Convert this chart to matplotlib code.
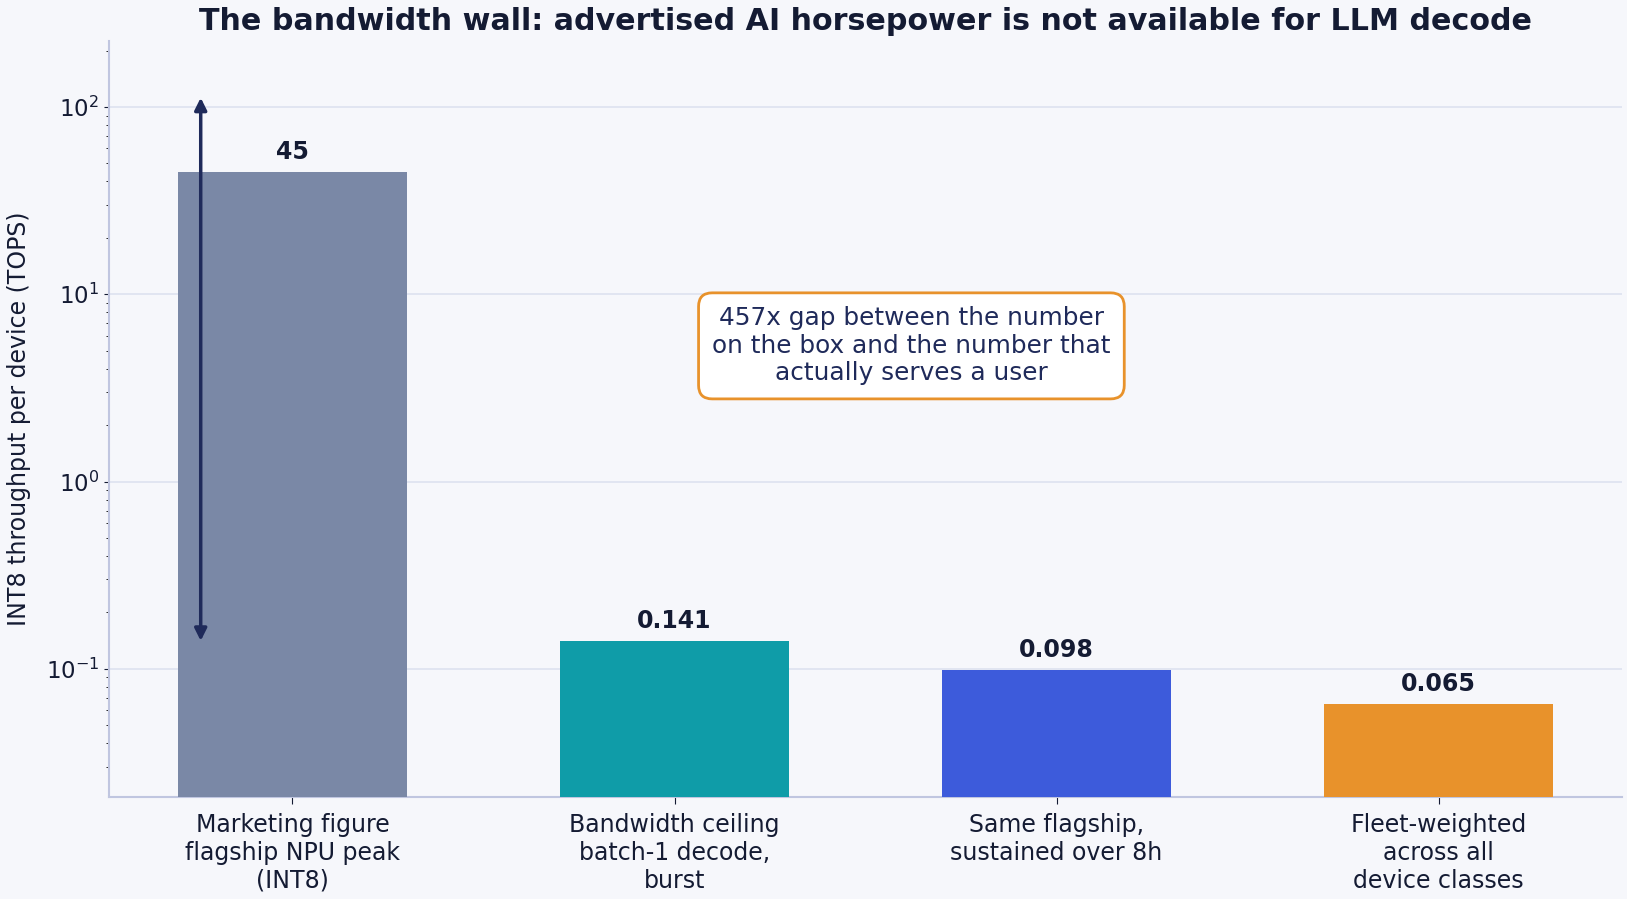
import matplotlib.pyplot as plt

# data
categories = [
    "Marketing figure\nflagship NPU peak\n(INT8)",
    "Bandwidth ceiling\nbatch-1 decode,\nburst",
    "Same flagship,\nsustained over 8h",
    "Fleet-weighted\nacross all\ndevice classes",
]
tops = [45, 0.141, 0.098, 0.065]
labels = ["45", "0.141", "0.098", "0.065"]
bar_colors = ["#7a88a6", "#0f9ca8", "#3d5bdb", "#e8922b"]

ink = "#141b33"
navy = "#1f2a5a"
bg = "#f6f7fb"

fig, ax = plt.subplots(figsize=(16.27, 8.99), dpi=100)
fig.patch.set_facecolor(bg)
ax.set_facecolor(bg)

x = range(len(categories))
ax.bar(x, tops, width=0.6, color=bar_colors, zorder=3)
ax.set_yscale("log")
ax.set_ylim(0.0208, 224)

for xi, v, lab in zip(x, tops, labels):
    ax.annotate(lab, (xi, v), xytext=(0, 6), textcoords="offset points",
                ha="center", va="bottom", fontsize=17, fontweight="bold", color=ink)

# the gap arrow
ax.annotate("", xy=(-0.24, 0.141), xytext=(-0.24, 112),
            arrowprops=dict(arrowstyle="<|-|>", color=navy, lw=2.5,
                            mutation_scale=18, shrinkA=0, shrinkB=0),
            zorder=5)

ax.text(1.62, 5.3, "457x gap between the number\non the box and the number that\nactually serves a user",
        ha="center", va="center", fontsize=17.8, color=navy, zorder=6, linespacing=1.18,
        bbox=dict(boxstyle="round,pad=0.55", fc="white", ec="#e8922b", lw=2))

ax.set_xticks(list(x))
ax.set_xticklabels(categories, fontsize=17, color=ink, linespacing=1.2)
ax.tick_params(axis="y", labelsize=16.5, colors=ink)
ax.tick_params(axis="x", colors=ink, length=5, pad=7)
ax.set_ylabel("INT8 throughput per device (TOPS)", fontsize=17, color=ink, labelpad=11)
ax.set_title("The bandwidth wall: advertised AI horsepower is not available for LLM decode",
             fontsize=21.7, fontweight="bold", color=ink, pad=8)

ax.grid(axis="y", which="major", color="#dde2f0", lw=1.2, zorder=0)
for s in ["top", "right"]:
    ax.spines[s].set_visible(False)
for s in ["left", "bottom"]:
    ax.spines[s].set_color("#c0c6e0")
    ax.spines[s].set_linewidth(1.5)

plt.subplots_adjust(left=0.067, right=0.997, top=0.954, bottom=0.114)
fig.savefig("out.png", facecolor=bg)
